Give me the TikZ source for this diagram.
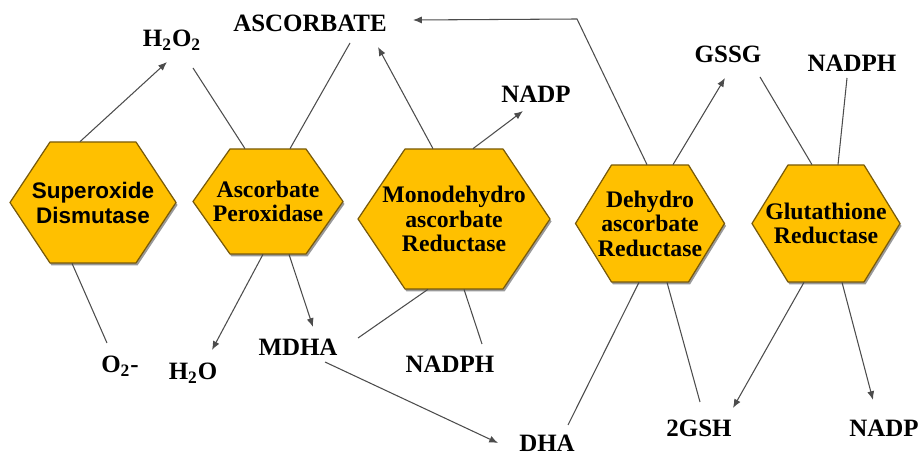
\documentclass[tikz,border=0pt]{standalone}
\usepackage{fontspec}
\setmainfont{Liberation Serif}
\newfontfamily\hexsansfont{Liberation Sans}
\newfontfamily\hexseriffont{Liberation Serif}
\usetikzlibrary{calc,arrows.meta}

\definecolor{hexfill}{RGB}{255,192,0}
\definecolor{hexborder}{RGB}{120,90,10}

\tikzset{
    hexagon/.style={draw=hexborder, fill=hexfill, line width=0.7pt, line join=round},
    hexshadow/.style={fill=black!40},
    hexserif/.style={align=center, inner sep=0pt, font=\hexseriffont\bfseries\fontsize{13.5}{13.9}\selectfont},
    hexsans/.style={align=center, inner sep=0pt, font=\hexsansfont\bfseries\fontsize{12.8}{14.2}\selectfont},
    chem/.style={inner sep=0pt, font=\hexseriffont\bfseries\fontsize{14.2}{17}\selectfont},
    link/.style={draw=black!70, line width=0.6pt},
    react/.style={link, -{Latex[length=5pt,width=4pt]}}
}

\begin{document}
\begin{tikzpicture}[x=0.02cm, y=-0.02cm]
    \useasboundingbox (0,0) rectangle (920,455);
    \foreach \cx/\cy/\hw/\hh/\cut in {93/202.5/83/60.5/40, 268/201.5/75/52.5/37, 454/219/96/70/47,
        650/223.5/74.5/58.5/36, 826/223.5/74/58.5/36}
    {
        \fill[hexshadow] (\cx-\hw+1.5,\cy+2.5) -- (\cx-\hw+\cut+1.5,\cy-\hh+2.5) -- (\cx+\hw-\cut+1.5,\cy-\hh+2.5)
            -- (\cx+\hw+1.5,\cy+2.5) -- (\cx+\hw-\cut+1.5,\cy+\hh+2.5) -- (\cx-\hw+\cut+1.5,\cy+\hh+2.5) -- cycle;
        \draw[hexagon] (\cx-\hw,\cy) -- (\cx-\hw+\cut,\cy-\hh) -- (\cx+\hw-\cut,\cy-\hh)
            -- (\cx+\hw,\cy) -- (\cx+\hw-\cut,\cy+\hh) -- (\cx-\hw+\cut,\cy+\hh) -- cycle;
    }

    \node[hexsans, minimum width=3.32cm, minimum height=2.42cm] (sod) at (93,202.5) {Superoxide\\Dismutase};
    \node[hexserif, minimum width=3cm, minimum height=2.1cm] (apx) at (268,201.5) {Ascorbate\\Peroxidase};
    \node[hexserif, minimum width=3.84cm, minimum height=2.8cm] (mdhar) at (454,219) {Monodehydro\\ascorbate\\Reductase};
    \node[hexserif, minimum width=2.98cm, minimum height=2.34cm] (dhar) at (650,223.5) {Dehydro\\ascorbate\\Reductase};
    \node[hexserif, minimum width=2.96cm, minimum height=2.34cm] (gr) at (826,223.5) {Glutathione\\Reductase};

    \node[chem, anchor=base] (h2o2) at (172,47) {H\textsubscript{2}O\textsubscript{2}};
    \node[chem, anchor=base] (asc) at (310,32) {ASCORBATE};
    \node[chem, anchor=base] (nadpa) at (536,103) {NADP};
    \node[chem, anchor=base] (gssg) at (728,63) {GSSG};
    \node[chem, anchor=base] (nadpha) at (852,72) {NADPH};
    \node[chem, anchor=base] (o2) at (120,373) {O\textsubscript{2}-};
    \node[chem, anchor=base] (h2o) at (193,380) {H\textsubscript{2}O};
    \node[chem, anchor=base] (mdha) at (298,356) {MDHA};
    \node[chem, anchor=base] (nadphb) at (450,373) {NADPH};
    \node[chem, anchor=base] (dha) at (547,452) {DHA};
    \node[chem, anchor=base] (gsh) at (699,437) {2GSH};
    \node[chem, anchor=base] (nadpb) at (884,437) {NADP};
    \coordinate (ascbend) at (577,19);

    \draw[react] ($(sod.north)+(-13,0)$) -- ($(h2o2.base)+(-5,15)$);
    \draw[link] ($(h2o2.base)+(21,21)$) -- ($(apx.north)+(-23,0)$);
    \draw[link] ($(asc.base)+(40,11)$) -- ($(apx.north)+(22,0)$);
    \draw[react] ($(mdhar.north)+(-21,0)$) -- ($(asc.base)+(68,15)$);
    \draw[react] ($(mdhar.north)+(19,0)$) -- ($(nadpa.base)+(-13,8)$);
    \draw[react] ($(dhar.north)+(-3,0)$) -- (ascbend) -- ($(asc.base)+(103,-12)$);
    \draw[react] ($(dhar.north)+(23,0)$) -- ($(gssg.base)+(-3,15)$);
    \draw[link] ($(gssg.base)+(32,14)$) -- ($(gr.north)+(-14,0)$);
    \draw[link] ($(nadpha.base)+(-5,6)$) -- ($(gr.north)+(12,0)$);
    \draw[link] ($(sod.south)+(-21,0)$) -- ($(o2.base)+(-13,-30)$);
    \draw[react] ($(apx.south)+(-5,0)$) -- ($(h2o.base)+(19,-30)$);
    \draw[react] ($(apx.south)+(21,0)$) -- ($(mdha.base)+(15,-29)$);
    \draw[link] ($(mdha.base)+(60,-18)$) -- ($(mdhar.south)+(-26,0)$);
    \draw[link] ($(nadphb.base)+(32,-29)$) -- ($(mdhar.south)+(10,0)$);
    \draw[react] ($(mdha.base)+(27,6)$) -- ($(dha.base)+(-49,-9)$);
    \draw[link] ($(dha.base)+(21,-27)$) -- ($(dhar.south)+(-11,0)$);
    \draw[link] ($(gsh.base)+(1,-35)$) -- ($(dhar.south)+(17,0)$);
    \draw[react] ($(gr.south)+(-22,0)$) -- ($(gsh.base)+(34,-29)$);
    \draw[react] ($(gr.south)+(16,0)$) -- ($(nadpb.base)+(-11,-37)$);
\end{tikzpicture}
\end{document}
